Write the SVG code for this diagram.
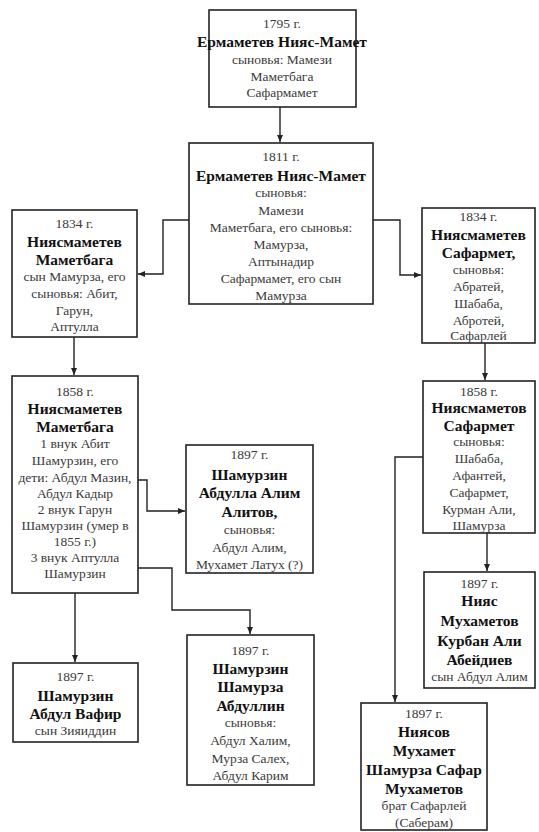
<svg xmlns="http://www.w3.org/2000/svg" width="539" height="832" viewBox="0 0 539 832">
<defs>
<marker id="arr" markerWidth="8" markerHeight="8" refX="7" refY="4" orient="auto" markerUnits="userSpaceOnUse">
<path d="M0,1 L7,4 L0,7 Z" fill="#222"/>
</marker>
<style>
rect.box{fill:#fff;stroke:#222;stroke-width:1.6}
text{font-family:'Liberation Serif','Tinos','DejaVu Serif Condensed','DejaVu Serif',serif;text-anchor:middle}
.r{font-size:13.5px;fill:#3a3a3a}
.b{font-size:15.5px;font-weight:bold;fill:#111}
.c{fill:none;stroke:#222;stroke-width:1.4}
</style>
</defs>
<rect width="539" height="832" fill="#fff"/>
<g id="connectors">
<path class="c" d="M280,107 V142" marker-end="url(#arr)"/>
<path class="c" d="M189,220 H163 V274 H138" marker-end="url(#arr)"/>
<path class="c" d="M373,220 H400 V275 H421" marker-end="url(#arr)"/>
<path class="c" d="M74,337 V375" marker-end="url(#arr)"/>
<path class="c" d="M485,343 V380" marker-end="url(#arr)"/>
<path class="c" d="M138,480 H147 V511 H185" marker-end="url(#arr)"/>
<path class="c" d="M138,568 H172 V610 H250 V634" marker-end="url(#arr)"/>
<path class="c" d="M75,593 V662" marker-end="url(#arr)"/>
<path class="c" d="M423,457 H395 V702" marker-end="url(#arr)"/>
<path class="c" d="M487,533 V571" marker-end="url(#arr)"/>
</g>
<g id="n1795">
<rect class="box" x="209" y="10" width="147" height="97"/>
<text class="r" x="282" y="28">1795 г.</text>
<text class="b" x="282" y="47">Ермаметев Нияс-Мамет</text>
<text class="r" x="282" y="64">сыновья: Мамези</text>
<text class="r" x="282" y="81">Маметбага</text>
<text class="r" x="282" y="97">Сафармамет</text>
</g>
<g id="n1811">
<rect class="box" x="189" y="143" width="184" height="161"/>
<text class="r" x="281" y="161">1811 г.</text>
<text class="b" x="281" y="181">Ермаметев Нияс-Мамет</text>
<text class="r" x="281" y="197">сыновья:</text>
<text class="r" x="281" y="215">Мамези</text>
<text class="r" x="281" y="232">Маметбага, его сыновья:</text>
<text class="r" x="281" y="249">Мамурза,</text>
<text class="r" x="281" y="266">Аптынадир</text>
<text class="r" x="281" y="283">Сафармамет, его сын</text>
<text class="r" x="281" y="300">Мамурза</text>
</g>
<g id="n1834left">
<rect class="box" x="12" y="210" width="125" height="127"/>
<text class="r" x="74.5" y="228">1834 г.</text>
<text class="b" x="74.5" y="247">Ниясмаметев</text>
<text class="b" x="74.5" y="265">Маметбага</text>
<text class="r" x="74.5" y="281">сын Мамурза, его</text>
<text class="r" x="74.5" y="298">сыновья: Абит,</text>
<text class="r" x="74.5" y="315">Гарун,</text>
<text class="r" x="74.5" y="331">Аптулла</text>
</g>
<g id="n1834right">
<rect class="box" x="422" y="208" width="113" height="135"/>
<text class="r" x="478.5" y="221">1834 г.</text>
<text class="b" x="478.5" y="240">Ниясмаметев</text>
<text class="b" x="478.5" y="258">Сафармет,</text>
<text class="r" x="478.5" y="274">сыновья:</text>
<text class="r" x="478.5" y="291">Абратей,</text>
<text class="r" x="478.5" y="308">Шабаба,</text>
<text class="r" x="478.5" y="325">Абротей,</text>
<text class="r" x="478.5" y="340">Сафарлей</text>
</g>
<g id="n1858left">
<rect class="box" x="12" y="376" width="126" height="217"/>
<text class="r" x="75" y="396">1858 г.</text>
<text class="b" x="75" y="414">Ниясмаметев</text>
<text class="b" x="75" y="432">Маметбага</text>
<text class="r" x="75" y="448">1 внук Абит</text>
<text class="r" x="75" y="465">Шамурзин, его</text>
<text class="r" x="75" y="482">дети: Абдул Мазин,</text>
<text class="r" x="75" y="498">Абдул Кадыр</text>
<text class="r" x="75" y="514">2 внук Гарун</text>
<text class="r" x="75" y="530">Шамурзин (умер в</text>
<text class="r" x="75" y="546">1855 г.)</text>
<text class="r" x="75" y="562">3 внук Аптулла</text>
<text class="r" x="75" y="578">Шамурзин</text>
</g>
<g id="n1858right">
<rect class="box" x="423" y="381" width="112" height="152"/>
<text class="r" x="479" y="396">1858 г.</text>
<text class="b" x="479" y="413">Ниясмаметов</text>
<text class="b" x="479" y="431">Сафармет</text>
<text class="r" x="479" y="446">сыновья:</text>
<text class="r" x="479" y="463">Шабаба,</text>
<text class="r" x="479" y="480">Афантей,</text>
<text class="r" x="479" y="497">Сафармет,</text>
<text class="r" x="479" y="514">Курман Али,</text>
<text class="r" x="479" y="530">Шамурза</text>
</g>
<g id="n1897alitov">
<rect class="box" x="186" y="445" width="127" height="128"/>
<text class="r" x="249.5" y="459">1897 г.</text>
<text class="b" x="249.5" y="480">Шамурзин</text>
<text class="b" x="249.5" y="498">Абдулла Алим</text>
<text class="b" x="249.5" y="517">Алитов,</text>
<text class="r" x="249.5" y="534">сыновья:</text>
<text class="r" x="249.5" y="552">Абдул Алим,</text>
<text class="r" x="249.5" y="569">Мухамет Латух (?)</text>
</g>
<g id="n1897kurban">
<rect class="box" x="424" y="572" width="111" height="116"/>
<text class="r" x="479.5" y="588">1897 г.</text>
<text class="b" x="479.5" y="606">Нияс</text>
<text class="b" x="479.5" y="626">Мухаметов</text>
<text class="b" x="479.5" y="646">Курбан Али</text>
<text class="b" x="479.5" y="665">Абейдиев</text>
<text class="r" x="479.5" y="681">сын Абдул Алим</text>
</g>
<g id="n1897vafir">
<rect class="box" x="13" y="663" width="125" height="79"/>
<text class="r" x="75.5" y="681">1897 г.</text>
<text class="b" x="75.5" y="701">Шамурзин</text>
<text class="b" x="75.5" y="719">Абдул Вафир</text>
<text class="r" x="75.5" y="735">сын Зияиддин</text>
</g>
<g id="n1897abdullin">
<rect class="box" x="187" y="635" width="127" height="150"/>
<text class="r" x="250.5" y="655">1897 г.</text>
<text class="b" x="250.5" y="674">Шамурзин</text>
<text class="b" x="250.5" y="692">Шамурза</text>
<text class="b" x="250.5" y="711">Абдуллин</text>
<text class="r" x="250.5" y="727">сыновья:</text>
<text class="r" x="250.5" y="745">Абдул Халим,</text>
<text class="r" x="250.5" y="763">Мурза Салех,</text>
<text class="r" x="250.5" y="780">Абдул Карим</text>
</g>
<g id="n1897niyasov">
<rect class="box" x="361" y="703" width="126" height="127"/>
<text class="r" x="424" y="718">1897 г.</text>
<text class="b" x="424" y="737">Ниясов</text>
<text class="b" x="424" y="756">Мухамет</text>
<text class="b" x="424" y="775">Шамурза Сафар</text>
<text class="b" x="424" y="794">Мухаметов</text>
<text class="r" x="424" y="810">брат Сафарлей</text>
<text class="r" x="424" y="827">(Саберам)</text>
</g>
</svg>
